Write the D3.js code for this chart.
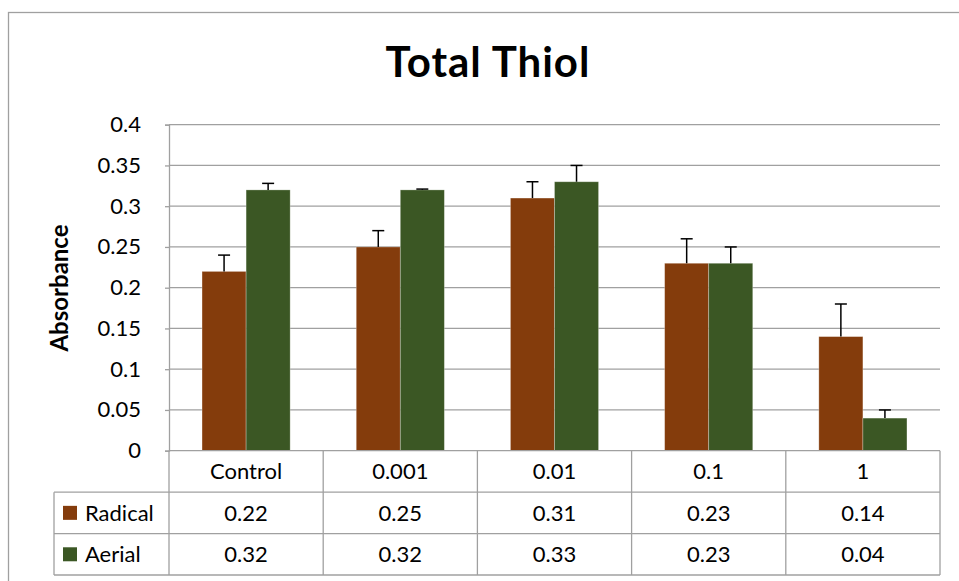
<!DOCTYPE html>
<html>
<head>
<meta charset="utf-8">
<script src="https://cdn.jsdelivr.net/npm/d3@7"></script>
<style>
  body { margin: 0; background: #fff; }
  text { font-family: Lato, "Open Sans", sans-serif; fill: #000; }
</style>
</head>
<body>
<div id="chart"></div>
<script>
// chart values
const categories = ["Control", "0.001", "0.01", "0.1", "1"];
const seriesNames = ["Radical", "Aerial"];
const radical = [0.22, 0.25, 0.31, 0.23, 0.14];
const aerial = [0.32, 0.32, 0.33, 0.23, 0.04];
const radicalErr = [0.02, 0.02, 0.02, 0.03, 0.04];
const aerialErr = [0.008, 0.001, 0.02, 0.02, 0.01];
const yTicks = [0, 0.05, 0.1, 0.15, 0.2, 0.25, 0.3, 0.35, 0.4];
const colors = ["#843c0c", "#3b5724"];

const width = 959, height = 581;
const svg = d3.select("#chart").append("svg")
    .attr("width", width)
    .attr("height", height);

// outer chart border
svg.append("rect")
    .attr("x", 8.5).attr("y", 12.5)
    .attr("width", 1000).attr("height", 1000)
    .attr("fill", "none")
    .attr("stroke", "#a0a0a0")
    .attr("stroke-width", 1.3);

svg.append("text")
    .attr("x", 488).attr("y", 77)
    .attr("text-anchor", "middle")
    .style("font-size", "42px")
    .style("font-weight", "bold")
    .style("letter-spacing", "1px")
    .text("Total Thiol");

const plotLeft = 169, plotRight = 940, plotTop = 124.7, plotBottom = 450.7;
const tableBottom = 575;
const fontSize = "22px";

const x = d3.scaleBand().domain(categories).range([plotLeft, plotRight]);
const y = d3.scaleLinear().domain([0, 0.4]).range([plotBottom, plotTop]);
const barW = x.bandwidth() / 3.5;
const xs = d3.scaleBand().domain(seriesNames)
    .range([(x.bandwidth() - 2 * barW) / 2, (x.bandwidth() + 2 * barW) / 2]);

// gridlines
svg.append("g").selectAll("line")
    .data(yTicks.filter(d => d > 0))
    .join("line")
    .attr("x1", plotLeft).attr("x2", plotRight)
    .attr("y1", d => y(d)).attr("y2", d => y(d))
    .attr("stroke", "#a0a0a0")
    .attr("stroke-width", 1.3);

// y axis
const yAxis = svg.append("g")
    .attr("transform", `translate(${plotLeft},0)`)
    .call(d3.axisLeft(y).tickValues(yTicks).tickSize(4).tickPadding(24)
        .tickFormat(d => String(+d.toFixed(2))));
yAxis.select(".domain").attr("stroke", "#a0a0a0").attr("stroke-width", 1.3);
yAxis.selectAll(".tick line").attr("stroke", "#a0a0a0").attr("stroke-width", 1.3);
yAxis.selectAll(".tick text")
    .style("font-size", fontSize)
    .style("font-family", "Lato, sans-serif")
    .attr("fill", "#000");

svg.append("text")
    .attr("transform", "translate(68,288) rotate(-90)")
    .attr("text-anchor", "middle")
    .style("font-size", "24px")
    .style("font-weight", "bold")
    .text("Absorbance");

// bars
const rows = categories.map((c, i) => ({
    cat: c,
    vals: [
        { name: "Radical", v: radical[i], e: radicalErr[i], color: colors[0] },
        { name: "Aerial", v: aerial[i], e: aerialErr[i], color: colors[1] }
    ]
}));

const groups = svg.append("g").selectAll("g")
    .data(rows)
    .join("g")
    .attr("transform", d => `translate(${x(d.cat)},0)`);

groups.selectAll("rect")
    .data(d => d.vals)
    .join("rect")
    .attr("x", d => xs(d.name))
    .attr("y", d => y(d.v))
    .attr("width", barW)
    .attr("height", d => plotBottom - y(d.v))
    .attr("fill", d => d.color)
    .attr("stroke", "#ffffff")
    .attr("stroke-opacity", 0.35)
    .attr("stroke-width", 0.8);

// error bars
const err = groups.selectAll("g.err")
    .data(d => d.vals)
    .join("g")
    .attr("class", "err")
    .attr("transform", d => `translate(${xs(d.name) + barW / 2},0)`);
err.append("line")
    .attr("x1", 0).attr("x2", 0)
    .attr("y1", d => y(d.v)).attr("y2", d => y(d.v + d.e))
    .attr("stroke", "#000").attr("stroke-width", 1.5);
err.append("line")
    .attr("x1", -6).attr("x2", 6)
    .attr("y1", d => y(d.v + d.e)).attr("y2", d => y(d.v + d.e))
    .attr("stroke", "#000").attr("stroke-width", 1.5);

// data table
const tableRows = ["header", ...seriesNames];
const ty = d3.scaleBand().domain(tableRows).range([plotBottom, tableBottom]);
const legendLeft = 54;
const table = svg.append("g");
const gridStroke = "#a0a0a0";

// horizontal lines
table.selectAll("line.h")
    .data([plotBottom, ty("Radical"), ty("Aerial"), tableBottom])
    .join("line")
    .attr("class", "h")
    .attr("x1", (d, i) => i === 0 ? plotLeft : legendLeft)
    .attr("x2", plotRight)
    .attr("y1", d => d).attr("y2", d => d)
    .attr("stroke", gridStroke).attr("stroke-width", 1.3);

// vertical lines
const vx = [...categories.map(c => x(c)), plotRight];
table.selectAll("line.v")
    .data(vx)
    .join("line")
    .attr("class", "v")
    .attr("x1", d => d).attr("x2", d => d)
    .attr("y1", plotBottom).attr("y2", tableBottom)
    .attr("stroke", gridStroke).attr("stroke-width", 1.3);
table.append("line")
    .attr("x1", legendLeft).attr("x2", legendLeft)
    .attr("y1", ty("Radical")).attr("y2", tableBottom)
    .attr("stroke", gridStroke).attr("stroke-width", 1.3);

// category labels
table.selectAll("text.cat")
    .data(categories)
    .join("text")
    .attr("class", "cat")
    .attr("x", d => x(d) + x.bandwidth() / 2)
    .attr("y", ty("header") + ty.bandwidth() / 2)
    .attr("dy", "0.35em")
    .attr("text-anchor", "middle")
    .style("font-size", fontSize)
    .text(d => d);

// values
const seriesVals = { Radical: radical, Aerial: aerial };
seriesNames.forEach((s, si) => {
    const cy = ty(s) + ty.bandwidth() / 2;
    table.append("rect")
        .attr("x", 63).attr("y", cy - 7)
        .attr("width", 14).attr("height", 14)
        .attr("fill", colors[si]);
    table.append("text")
        .attr("x", 85).attr("y", cy)
        .attr("dy", "0.35em")
        .style("font-size", fontSize)
        .text(s);
    table.selectAll("text.v" + si)
        .data(seriesVals[s])
        .join("text")
        .attr("class", "v" + si)
        .attr("x", (d, i) => x(categories[i]) + x.bandwidth() / 2)
        .attr("y", cy)
        .attr("dy", "0.35em")
        .attr("text-anchor", "middle")
        .style("font-size", fontSize)
        .text(d => d3.format(".2f")(d));
});
</script>
</body>
</html>
